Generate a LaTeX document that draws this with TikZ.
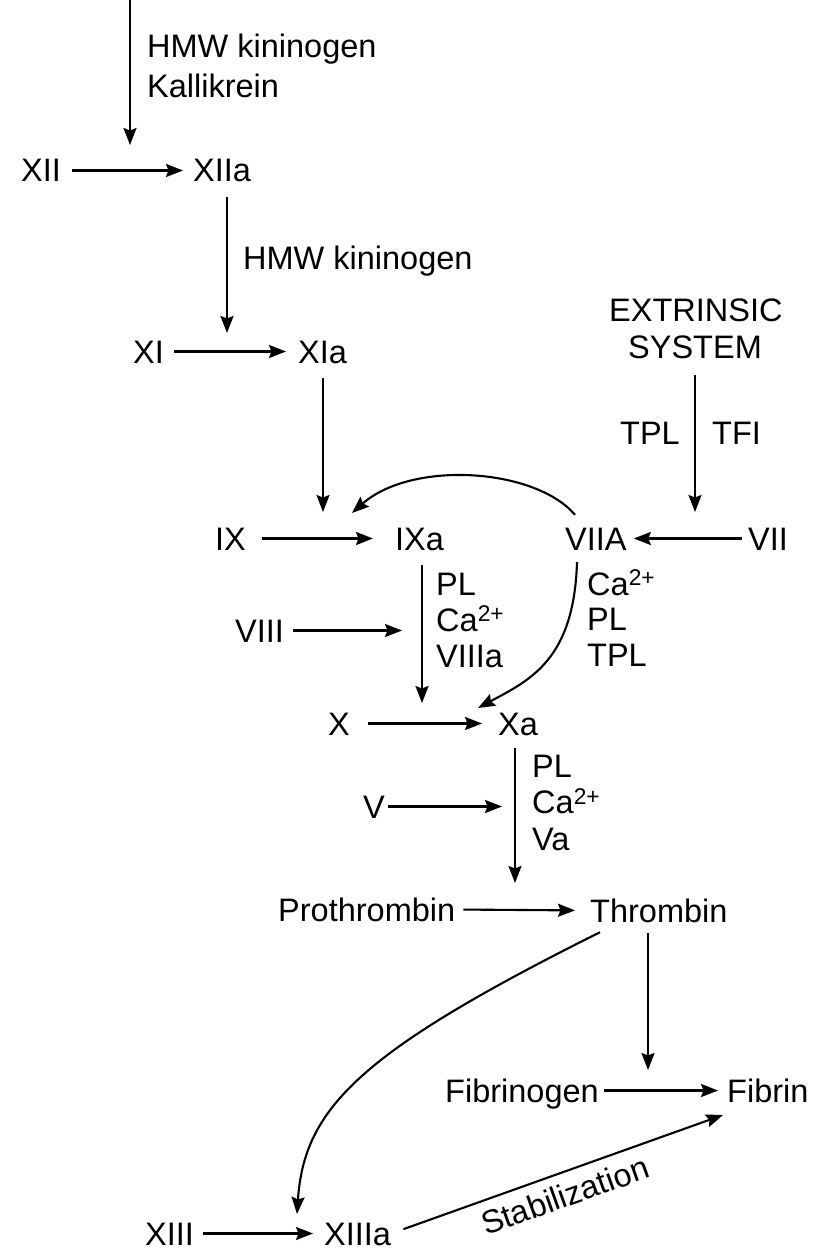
\documentclass[tikz,border=0pt]{standalone}
\usepackage{fontspec}
\setmainfont{Liberation Sans}
\usetikzlibrary{arrows.meta, calc, positioning}
\newcommand{\Cat}{Ca\textsuperscript{2+}}

\begin{document}
\begin{tikzpicture}[
  x=1pt, y=-1pt,
  >={Stealth[length=17pt,width=13pt,inset=2.5pt]},
  every node/.style={font=\fontsize{32.5}{36}\selectfont, inner sep=0pt, text height=23pt, text depth=0pt},
  fac/.style={anchor=base west},
  arr/.style={->, line width=2.1pt},
  harr/.style={arr, shorten <=10pt, shorten >=12pt},
  varr/.style={arr, shorten <=15pt, shorten >=24pt}
  ]
  \useasboundingbox (0,0) rectangle (821,1252);
  % factors
  \node[fac] (xii) at (21,182) {XII};
  \node[fac] (xiia) at (193,182) {XIIa};
  \node[fac] (xi) at (133,363) {XI};
  \node[fac] (xia) at (298,363) {XIa};
  \node[fac] (ext) at (609,321) {EXTRINSIC};
  \node[fac] (sys) at (628,358) {SYSTEM};
  \node[fac] (ix) at (215,550) {IX};
  \node[fac] (ixa) at (395,550) {IXa};
  \node[fac] (viia) at (565,550) {VIIA};
  \node[fac] (vii) at (748,550) {VII};
  \node[fac] (viii) at (235,642) {VIII};
  \node[fac] (x) at (328,735) {X};
  \node[fac] (xa) at (498,735) {Xa};
  \node[fac] (v) at (363,818) {V};
  \node[fac] (pro) at (278,921) {Prothrombin};
  \node[fac] (thr) at (590,922) {Thrombin};
  \node[fac] (fbg) at (445,1102) {Fibrinogen};
  \node[fac] (fib) at (727,1102) {Fibrin};
  \node[fac] (xiii) at (145,1245) {XIII};
  \node[fac] (xiiia) at (324,1245) {XIIIa};
  % cofactors
  \node[fac] (hmwa) at (147,58) {HMW kininogen};
  \node[fac] (kal) at (147,98) {Kallikrein};
  \node[fac] (hmwb) at (243,269) {HMW kininogen};
  \node[anchor=base east] (tpl) at (680,444) {TPL};
  \node[fac] (tfi) at (712,444) {TFI};
  \foreach \lbl [count=\i from 0] in {PL, \Cat, VIIIa}
    \node[fac] at (436,595+36*\i) {\lbl};
  \foreach \lbl [count=\i from 0] in {\Cat, PL, TPL}
    \node[fac] at (587,595+35.5*\i) {\lbl};
  \foreach \lbl [count=\i from 0] in {PL, \Cat, Va}
    \node[fac] at (532,777+36.5*\i) {\lbl};
  % junctions on the horizontal arrows
  \coordinate (src) at (130,0);
  \coordinate (j1) at (130,171);
  \coordinate (j2) at (227,353);
  \coordinate (j3) at (323,538);
  \coordinate (j4) at (695,538);
  \coordinate (j5) at (422,723);
  \coordinate (j6) at (515,907);
  \coordinate (j7) at (648,1093);
  \coordinate (k1) at (j5 |- viii);
  \coordinate (k2) at (j6 |- v);
  \coordinate (ixin) at (352,513);
  \coordinate (xain) at (478,708);
  \coordinate (xiiiain) at (297,1214);
  \coordinate (fibin) at (723,1115);
  % horizontal arrows
  \draw[harr, shorten <=11pt, shorten >=10pt] (xii.east) -- (xiia.west);
  \draw[harr] (xi.east) -- (xia.west);
  \draw[harr, shorten <=16pt, shorten >=22pt] (ix.east) -- (ixa.west);
  \draw[harr, shorten <=6pt, shorten >=7pt] (vii.west) -- (viia.east);
  \draw[harr, shorten <=9pt, shorten >=20pt] (viii.east) -- (k1);
  \draw[harr, shorten <=18pt, shorten >=16pt] (x.east) -- (xa.west);
  \draw[harr, shorten <=3pt, shorten >=13pt] (v.east) -- (k2);
  \draw[harr, shorten <=8pt, shorten >=15pt] (pro.east) -- (thr.west);
  \draw[harr, shorten <=5pt, shorten >=9pt] (fbg.east) -- (fib.west);
  \draw[harr, shorten <=9pt, shorten >=11pt] (xiii.east) -- (xiiia.west);
  % vertical arrows
  \draw[arr, shorten >=26pt] (src) -- (j1);
  \draw[varr, shorten >=20pt] (xiia.south -| j2) -- (j2);
  \draw[varr, shorten >=26pt] (xia.south -| j3) -- (j3);
  \draw[varr, shorten <=17pt, shorten >=26pt] (sys.south -| j4) -- (j4);
  \draw[varr, shorten >=20pt] (ixa.south -| j5) -- (j5);
  \draw[varr, shorten <=13pt] (xa.south -| j6) -- (j6);
  \draw[varr, shorten <=11pt, shorten >=23pt] (thr.south -| j7) -- (j7);
  % curved arrows
  \draw[arr] ([xshift=10pt,yshift=12pt]viia.north west) .. controls (535,468) and (412,460) .. (ixin);
  \draw[arr] ([xshift=12pt,yshift=-12pt]viia.south west) .. controls (574,660) and (530,680) .. (xain);
  \draw[arr] ([xshift=10pt,yshift=-10pt]thr.south west) .. controls (360,1052) and (304,1108) .. (xiiiain);
  \draw[arr, shorten <=13pt] (xiiia.east) -- (fibin)
    node[midway, sloped, below=10pt] {Stabilization};
\end{tikzpicture}
\end{document}
